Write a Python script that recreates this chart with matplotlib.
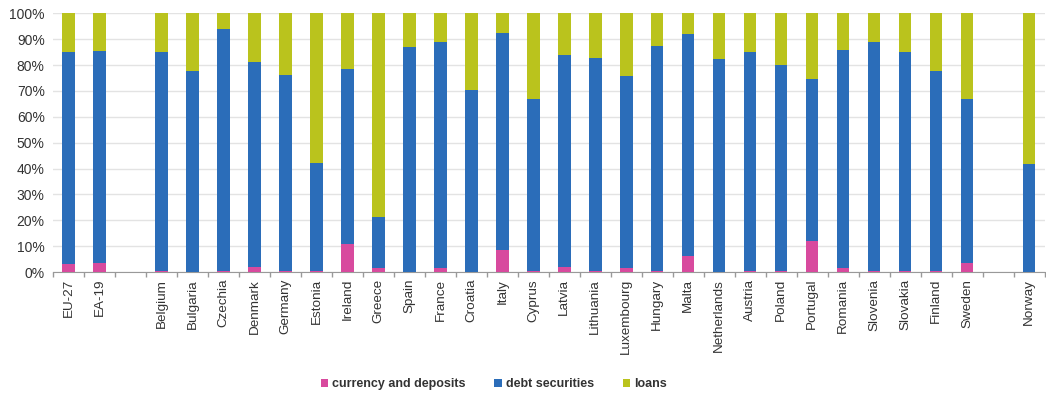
import numpy as np
import matplotlib.pyplot as plt
from matplotlib.ticker import FixedLocator, PercentFormatter

plt.rcParams['font.family'] = ['Liberation Sans', 'DejaVu Sans']

# '' marks an empty slot between groups
countries = ['EU-27', 'EA-19', '', 'Belgium', 'Bulgaria', 'Czechia', 'Denmark', 'Germany',
             'Estonia', 'Ireland', 'Greece', 'Spain', 'France', 'Croatia', 'Italy', 'Cyprus',
             'Latvia', 'Lithuania', 'Luxembourg', 'Hungary', 'Malta', 'Netherlands', 'Austria',
             'Poland', 'Portugal', 'Romania', 'Slovenia', 'Slovakia', 'Finland', 'Sweden', '',
             'Norway']

# shares in % of total
currency = [3.0, 3.4, 0, 0.3, 0.2, 0.3, 2.0, 0.3,
            0.3, 10.8, 1.5, 0.2, 1.5, 0.2, 8.4, 0.3,
            2.0, 0.3, 1.5, 0.3, 6.3, 0.2, 0.3,
            0.3, 11.8, 1.6, 0.3, 0.3, 0.3, 3.5, 0,
            0.0]
debt = [81.9, 82.1, 0, 84.9, 77.5, 93.6, 79.2, 75.8,
        41.9, 67.5, 19.7, 86.8, 87.6, 70.1, 84.0, 66.5,
        81.8, 82.4, 74.1, 87.0, 85.8, 82.0, 84.8,
        79.8, 62.9, 84.1, 88.8, 84.7, 77.5, 63.5, 0,
        41.6]
loans = [100 - c - d if n else 0 for c, d, n in zip(currency, debt, countries)]

pink = '#d84a9e'
blue = '#2b6db9'
green = '#bac31d'

fig = plt.figure(figsize=(10.46, 3.94), dpi=100)
ax = fig.add_axes([0.0507, 0.3096, 0.948, 0.6566])

x = np.arange(len(countries))
w = 0.4
ax.bar(x, currency, w, color=pink, label='currency and deposits', zorder=3)
ax.bar(x, debt, w, bottom=currency, color=blue, label='debt securities', zorder=3)
ax.bar(x, loans, w, bottom=np.array(currency) + np.array(debt), color=green, label='loans', zorder=3)

ax.set_xlim(-0.5, len(countries) - 0.5)
ax.set_ylim(0, 100)
ax.yaxis.set_major_locator(FixedLocator(np.arange(0, 101, 10)))
ax.yaxis.set_major_formatter(PercentFormatter(decimals=0))
ax.grid(axis='y', color='#e3e3e3', linewidth=1, zorder=0)

ax.set_xticks(x)
ax.set_xticklabels(countries, rotation=90, fontsize=9.7, color='#333333')
ax.xaxis.set_minor_locator(FixedLocator(np.arange(-0.5, len(countries), 1)))
ax.tick_params(axis='x', which='major', length=0, pad=5)
ax.tick_params(axis='x', which='minor', length=3.5, color='#999999', width=1)
ax.tick_params(axis='y', length=0, labelsize=10, labelcolor='#333333', pad=6)

for s in ['top', 'right', 'left']:
    ax.spines[s].set_visible(False)
ax.spines['bottom'].set_color('#999999')

leg = fig.legend(loc='center', bbox_to_anchor=(0.472, 0.025), ncol=3, frameon=False,
                 handlelength=0.6, handleheight=0.6, handletextpad=0.3, columnspacing=2.3,
                 prop={'size': 9, 'weight': 'bold'})
for t in leg.get_texts():
    t.set_color('#333333')

fig.savefig('out.png', dpi=100)
